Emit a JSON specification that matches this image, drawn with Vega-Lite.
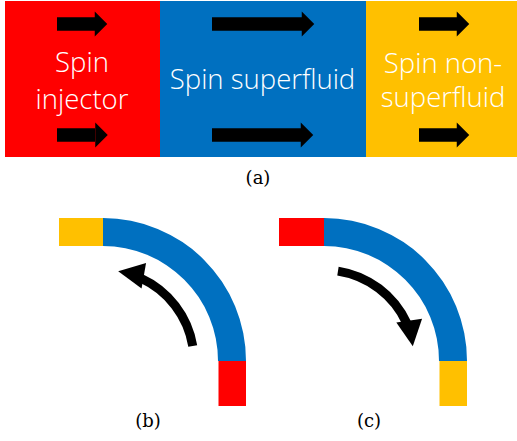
{
  "$schema": "https://vega.github.io/schema/vega-lite/v6.json",
  "width": 517,
  "height": 441,
  "padding": 0,
  "autosize": {"type": "none"},
  "background": "white",
  "config": {"view": {"stroke": null}},
  "datasets": {
    "blocks": [
      {"panel": "a", "kind": "injector", "x": 5, "x2": 160, "y": 1, "y2": 157},
      {"panel": "a", "kind": "superfluid", "x": 160, "x2": 366, "y": 1, "y2": 157},
      {"panel": "a", "kind": "non", "x": 366, "x2": 517, "y": 1, "y2": 157},
      {"panel": "b", "kind": "non", "x": 59, "x2": 103.5, "y": 218, "y2": 246},
      {"panel": "b", "kind": "injector", "x": 218.5, "x2": 246, "y": 361, "y2": 406},
      {"panel": "c", "kind": "injector", "x": 279, "x2": 324.5, "y": 218, "y2": 246},
      {"panel": "c", "kind": "non", "x": 439.5, "x2": 467, "y": 361, "y2": 406}
    ],
    "bends": [
      {"panel": "b", "kind": "superfluid", "x": 103, "y": 361, "t0": 0, "t1": 1.5708},
      {"panel": "c", "kind": "superfluid", "x": 324, "y": 361, "t0": 0, "t1": 1.5708}
    ],
    "straight": [
      {"x": 57, "x2": 95, "y": 24, "hx": 101},
      {"x": 57, "x2": 95, "y": 135, "hx": 101.5},
      {"x": 212, "x2": 302, "y": 24, "hx": 308},
      {"x": 212, "x2": 301, "y": 135, "hx": 307},
      {"x": 419, "x2": 457, "y": 24, "hx": 463},
      {"x": 419, "x2": 457, "y": 135, "hx": 463}
    ],
    "curved": [
      {"panel": "b", "x": 103, "y": 361, "t0": 0.43, "t1": 1.405},
      {"panel": "c", "x": 324, "y": 361, "t0": 0.154, "t1": 1.14}
    ],
    "heads": [
      {"panel": "b", "x": 131, "y": 273.5, "ang": 280},
      {"panel": "c", "x": 411, "y": 333.5, "ang": 172}
    ],
    "words": [
      {"x": 82, "y": 72, "text": "Spin"},
      {"x": 82, "y": 109, "text": "injector"},
      {"x": 262.5, "y": 89, "text": "Spin superfluid"},
      {"x": 443, "y": 73, "text": "Spin non-"},
      {"x": 443, "y": 107, "text": "superfluid"}
    ],
    "labels": [
      {"x": 258, "y": 184, "text": "(a)"},
      {"x": 148, "y": 427, "text": "(b)"},
      {"x": 369, "y": 427, "text": "(c)"}
    ]
  },
  "encoding": {
    "x": {"field": "x", "type": "quantitative", "scale": {"domain": [0, 517], "nice": false, "zero": false}, "axis": null},
    "y": {"field": "y", "type": "quantitative", "scale": {"domain": [0, 441], "nice": false, "zero": false, "reverse": true}, "axis": null}
  },
  "layer": [
    {
      "data": {"name": "blocks"},
      "mark": {"type": "rect"},
      "encoding": {
        "x2": {"field": "x2"},
        "y2": {"field": "y2"},
        "color": {"field": "kind", "type": "nominal", "scale": {"domain": ["injector", "superfluid", "non"], "range": ["#FF0000", "#0070C0", "#FFC000"]}, "legend": null}
      }
    },
    {
      "data": {"name": "bends"},
      "mark": {"type": "arc", "radius": 143, "radius2": 115},
      "encoding": {
        "theta": {"field": "t0", "type": "quantitative", "scale": null, "stack": null},
        "theta2": {"field": "t1"},
        "color": {"field": "kind", "type": "nominal", "legend": null}
      }
    },
    {
      "data": {"name": "straight"},
      "mark": {"type": "rule", "color": "#000000", "strokeWidth": 13.5, "strokeCap": "butt"},
      "encoding": {"x2": {"field": "x2"}}
    },
    {
      "data": {"name": "straight"},
      "mark": {"type": "point", "shape": "M-0.5,-1L0.5,0L-0.5,1Z", "size": 625, "filled": true, "color": "#000000", "opacity": 1, "strokeWidth": 0},
      "encoding": {"x": {"field": "hx", "type": "quantitative"}}
    },
    {
      "data": {"name": "curved"},
      "mark": {"type": "arc", "radius": 95.5, "radius2": 86.5, "color": "#000000"},
      "encoding": {
        "theta": {"field": "t0", "type": "quantitative", "scale": null, "stack": null},
        "theta2": {"field": "t1"}
      }
    },
    {
      "data": {"name": "heads"},
      "mark": {"type": "point", "shape": "M0,-1L1,1L-1,1Z", "size": 676, "filled": true, "color": "#000000", "opacity": 1, "strokeWidth": 0},
      "encoding": {"angle": {"field": "ang", "type": "quantitative", "scale": null}}
    },
    {
      "data": {"name": "words"},
      "mark": {"type": "text", "font": "Open Sans", "fontSize": 27.5, "fontWeight": 330, "color": "#FFFFFF", "align": "center", "baseline": "alphabetic"},
      "encoding": {"text": {"field": "text", "type": "nominal"}}
    },
    {
      "data": {"name": "labels"},
      "mark": {"type": "text", "font": "DejaVu Serif", "fontSize": 18, "fontWeight": "normal", "color": "#000000", "align": "center", "baseline": "alphabetic"},
      "encoding": {"text": {"field": "text", "type": "nominal"}}
    }
  ]
}
